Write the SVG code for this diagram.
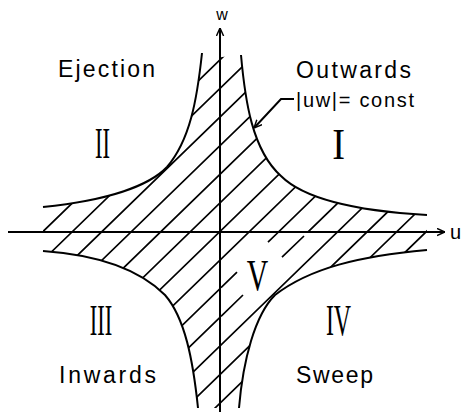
<svg xmlns="http://www.w3.org/2000/svg" width="463" height="414" viewBox="0 0 463 414">
<style>
.curve{fill:none;stroke:#000;stroke-width:2}
.hatch{fill:none;stroke:#000;stroke-width:1.7}
.axis{fill:none;stroke:#000;stroke-width:2}
.lbl{font-family:"Liberation Sans",Arial,sans-serif;font-size:23px;fill:#000}
.rom{font-family:"Liberation Serif","Times New Roman",serif;font-size:45px;fill:#000;text-anchor:middle}
</style>
<defs>
<marker id="arr" viewBox="0 0 10 10" refX="10" refY="5" markerWidth="8" markerHeight="9" markerUnits="userSpaceOnUse" orient="auto">
<path d="M0,0.5 L10,5 L0,9.5" fill="none" stroke="#000" stroke-width="1.8"/>
</marker>
<clipPath id="region">
<path d="M202,53 C197,100 190,140 167,167 C150,185 110,200 43,207 L43,251 C100,255 140,270 165,295 C185,318 193,360 198,408 L239,408 C243,360 255,315 275,295 C310,268 360,256 427,250 L427,215 C340,210 300,195 281,176 C252,150 245,100 241,55 L222,57 Z"/>
</clipPath>
<clipPath id="notV">
<rect x="0" y="0" width="463" height="231.5"/>
<rect x="0" y="231.5" width="220" height="183"/>
</clipPath>
</defs>
<g id="hatching" clip-path="url(#region)">
<path class="hatch" d="M-206.5,444.9 L223.5,27.8 M-177,444.9 L253,27.8 M-147.5,444.9 L282.5,27.8 M-118,444.9 L312,27.8 M-88.5,444.9 L341.5,27.8 M-59,444.9 L371,27.8 M-29.5,444.9 L400.5,27.8 M0,444.9 L430,27.8 M29.5,444.9 L459.5,27.8 M118,444.9 L548,27.8 M147.5,444.9 L577.5,27.8 M177,444.9 L607,27.8 M206.5,444.9 L636.5,27.8 M236,444.9 L666,27.8"/>
<g clip-path="url(#notV)">
<path class="hatch" d="M59,444.9 L489,27.8 M88.5,444.9 L518.5,27.8"/>
</g>
<path class="hatch" d="M221,287.7 L237,272.2 M268,242.2 L278,232.5 M221,316.3 L243,295 M282,257.2 L304,236"/>
</g>
<g id="curves">
<path class="curve" d="M202,53 C197,100 190,140 167,167 C150,185 110,200 43,207"/>
<path class="curve" d="M241,55 C245,100 252,150 281,176 C300,195 340,210 427,215"/>
<path class="curve" d="M43,251 C100,255 140,270 165,295 C185,318 193,360 198,408"/>
<path class="curve" d="M427,250 C360,256 310,268 275,295 C255,315 243,360 239,408"/>
</g>
<g id="connectors">
<path class="axis" d="M8,232 H445" marker-end="url(#arr)"/>
<path class="axis" d="M220,412 V28" marker-end="url(#arr)"/>
<path class="axis" d="M294,99 H281 L254,128" stroke-width="1.6" marker-end="url(#arr)"/>
</g>
<g id="axis-u"><text x="450" y="239" class="lbl" style="font-size:20px">u</text></g>
<g id="axis-w"><text x="222" y="20" class="lbl" style="font-size:16px" text-anchor="middle">w</text></g>
<g id="ejection"><text x="58" y="77" class="lbl" textLength="97" lengthAdjust="spacing">Ejection</text></g>
<g id="outwards"><text x="296" y="78" class="lbl" textLength="115" lengthAdjust="spacing">Outwards</text></g>
<g id="const-label"><text x="296" y="107" class="lbl" style="font-size:20px" textLength="118" lengthAdjust="spacing">|uw|= const</text></g>
<g id="inwards"><text x="59" y="383" class="lbl" textLength="97" lengthAdjust="spacing">Inwards</text></g>
<g id="sweep"><text x="296" y="383" class="lbl" textLength="77" lengthAdjust="spacing">Sweep</text></g>
<g id="region-I"><text class="rom" transform="translate(338.5,159) scale(0.85,1)">I</text></g>
<g id="region-II"><text class="rom" transform="translate(102.5,158) scale(0.5,1)">II</text></g>
<g id="region-III"><text class="rom" transform="translate(101,335) scale(0.5,1)">III</text></g>
<g id="region-IV"><text class="rom" transform="translate(338.5,335) scale(0.53,1)">IV</text></g>
<g id="region-V"><text class="rom" transform="translate(257.5,290) scale(0.66,1)">V</text></g>
</svg>
